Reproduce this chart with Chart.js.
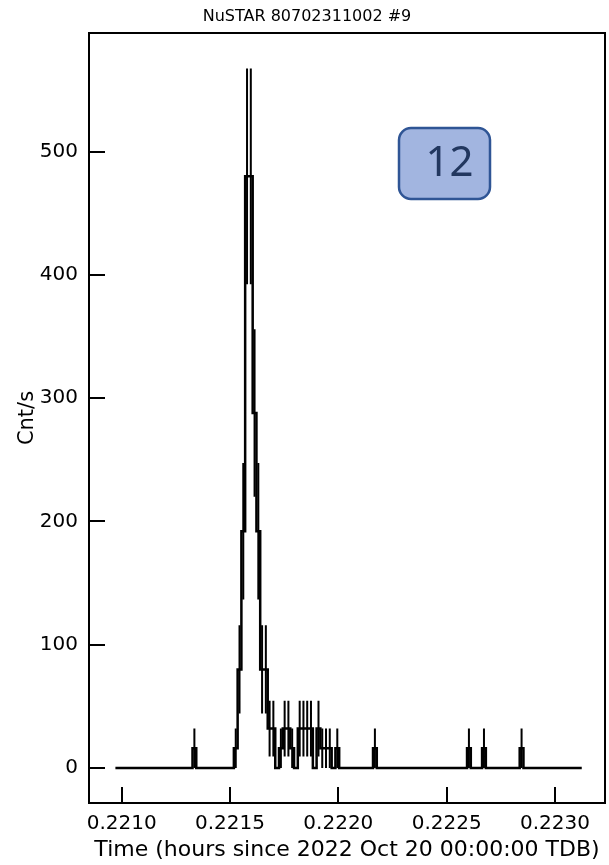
<!DOCTYPE html>
<html>
<head>
<meta charset="utf-8">
<script src="https://cdn.jsdelivr.net/npm/chart.js@4.4.1/dist/chart.umd.min.js"></script>
<style>
  html, body { margin: 0; padding: 0; background: #ffffff; }
  #wrap { width: 609px; height: 865px; }
</style>
</head>
<body>
<div id="wrap"><canvas id="lc" width="609" height="865"></canvas></div>
<script>
// Light curve of burst #9, 1/16 s bins
const titleText = 'NuSTAR 80702311002 #9';
const xAxisTitle = 'Time (hours since 2022 Oct 20 00:00:00 TDB)';
const yAxisTitle = 'Cnt/s';
const burstLabel = '12';

const binStart = 0.2209709;      // hours, centre of the first bin
const binWidth = 1 / 57600;      // 1/16 s expressed in hours

// count rate per bin (cnt/s)
const countRate = [
  0,0,0,0,0,0,0,0,0,0, 0,0,0,0,0,0,0,0,0,0,
  0,16, 0,0,0,0,0,0,0,0,0,0, 16,80,192,480,480,288,192,80,
  80,32,32,0,16,32,32,16,0,32, 32,32,32,0,32,16,16,16,0,16,
  0,0,0,0,0,0,0,0,0,16, 0,0,0,0,0,0,0,0,0,0,
  0,0,0,0,0,0,0,0,0,0, 0,0,0,0,16,0,0,0,16,0,
  0,0,0,0,0,0,0,0,16,0, 0,0,0,0,0,0,0,0,0,0,
  0,0,0,0,0
];

// 1-sigma uncertainty per bin (cnt/s)
const rateError = [
  0,0,0,0,0,0,0,0,0,0, 0,0,0,0,0,0,0,0,0,0,
  0,16, 0,0,0,0,0,0,0,0,0,0, 16,35.8,55.4,87.6,87.6,67.9,55.4,35.8,
  35.8,22.6,22.6,0,16,22.6,22.6,16,0,22.6, 22.6,22.6,22.6,0,22.6,16,16,16,0,16,
  0,0,0,0,0,0,0,0,0,16, 0,0,0,0,0,0,0,0,0,0,
  0,0,0,0,0,0,0,0,0,0, 0,0,0,0,16,0,0,0,16,0,
  0,0,0,0,0,0,0,0,16,0, 0,0,0,0,0,0,0,0,0,0,
  0,0,0,0,0
];

const xTicks = [0.2210, 0.2215, 0.2220, 0.2225, 0.2230];
const yTicks = [0, 100, 200, 300, 400, 500];

const binTimes = countRate.map((_, i) => binStart + i * binWidth);
const points = countRate.map((r, i) => ({ x: binTimes[i], y: r }));

const FONT = "'DejaVu Sans', 'Liberation Sans', sans-serif";

// vertical error bars at each bin centre
const errorBars = {
  id: 'errorBars',
  afterDatasetsDraw(chart) {
    const { ctx, chartArea, scales: { x, y } } = chart;
    ctx.save();
    ctx.beginPath();
    ctx.rect(chartArea.left, chartArea.top, chartArea.width, chartArea.height);
    ctx.clip();
    ctx.strokeStyle = '#000';
    ctx.lineWidth = 2;
    ctx.beginPath();
    countRate.forEach((r, i) => {
      const e = rateError[i];
      if (!e) return;
      const px = x.getPixelForValue(binTimes[i]);
      ctx.moveTo(px, y.getPixelForValue(r - e));
      ctx.lineTo(px, y.getPixelForValue(r + e));
    });
    ctx.stroke();
    ctx.restore();
  }
};

// frame, inward ticks, title and the boxed burst number
const frame = {
  id: 'frame',
  afterDraw(chart) {
    const { ctx, chartArea: a, scales: { x, y } } = chart;
    ctx.save();
    ctx.strokeStyle = '#000';
    ctx.lineWidth = 2;
    ctx.strokeRect(a.left, a.top, a.width, a.height);
    ctx.beginPath();
    xTicks.forEach(v => {
      const px = Math.round(x.getPixelForValue(v));
      ctx.moveTo(px, a.bottom);
      ctx.lineTo(px, a.bottom - 16);
    });
    yTicks.forEach(v => {
      const py = Math.round(y.getPixelForValue(v));
      ctx.moveTo(a.left, py);
      ctx.lineTo(a.left + 16, py);
    });
    ctx.stroke();

    ctx.fillStyle = '#000';
    ctx.font = '16px ' + FONT;
    ctx.textAlign = 'center';
    ctx.textBaseline = 'middle';
    ctx.fillText(titleText, 307, 17);

    // rounded label box
    const bx = a.left + 310, by = a.top + 95, bw = 91, bh = 71, r = 12;
    ctx.beginPath();
    ctx.moveTo(bx + r, by);
    ctx.arcTo(bx + bw, by, bx + bw, by + bh, r);
    ctx.arcTo(bx + bw, by + bh, bx, by + bh, r);
    ctx.arcTo(bx, by + bh, bx, by, r);
    ctx.arcTo(bx, by, bx + bw, by, r);
    ctx.closePath();
    ctx.fillStyle = '#a2b5e0';
    ctx.fill();
    ctx.lineWidth = 2.5;
    ctx.strokeStyle = '#2f5595';
    ctx.stroke();
    ctx.fillStyle = '#22375f';
    ctx.font = "42px 'Noto Sans', 'Liberation Sans', sans-serif";
    ctx.textAlign = 'center';
    ctx.textBaseline = 'middle';
    ctx.fillText(burstLabel, bx + bw / 2 + 5, by + bh / 2 + 1);
    ctx.restore();
  }
};

new Chart(document.getElementById('lc'), {
  type: 'line',
  data: {
    datasets: [{
      data: points,
      stepped: 'middle',
      borderColor: '#000',
      borderWidth: 2.5,
      pointRadius: 0,
      fill: false
    }]
  },
  options: {
    responsive: false,
    devicePixelRatio: 1,
    animation: false,
    layout: { padding: { left: 0, right: 4, top: 33, bottom: 0 } },
    plugins: { legend: { display: false }, title: { display: false }, tooltip: { enabled: false } },
    scales: {
      x: {
        type: 'linear',
        min: 0.220849,
        max: 0.223231,
        grid: { display: false, drawTicks: false },
        border: { display: false },
        ticks: {
          color: '#000',
          font: { family: FONT, size: 20 },
          padding: 9,
          maxRotation: 0,
          autoSkip: false,
          includeBounds: false,
          callback: v => Number(v).toFixed(4)
        },
        afterBuildTicks: s => { s.ticks = xTicks.map(v => ({ value: v })); },
        afterFit: s => { s.height = 62; },
        title: {
          display: true,
          text: xAxisTitle,
          color: '#000',
          font: { family: FONT, size: 22 },
          padding: { top: 0, bottom: 2 }
        }
      },
      y: {
        type: 'linear',
        min: -28.4,
        max: 596.3,
        grid: { display: false, drawTicks: false },
        border: { display: false },
        ticks: {
          color: '#000',
          font: { family: FONT, size: 20 },
          padding: 11,
          includeBounds: false,
          callback: v => String(v)
        },
        afterBuildTicks: s => { s.ticks = yTicks.map(v => ({ value: v })); },
        afterFit: s => { s.width = 89; },
        title: {
          display: true,
          text: yAxisTitle,
          color: '#000',
          font: { family: FONT, size: 21 },
          padding: { top: 15, bottom: 0 }
        }
      }
    }
  },
  plugins: [errorBars, frame]
});
</script>
</body>
</html>
